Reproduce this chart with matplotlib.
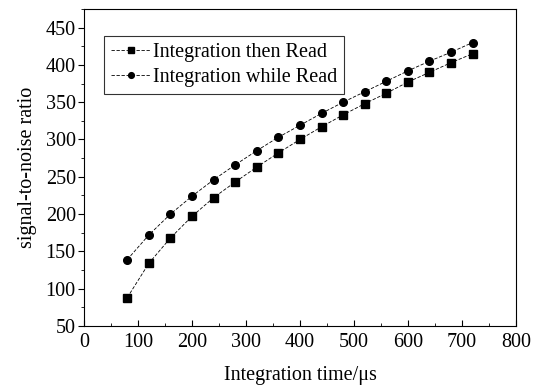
import matplotlib
matplotlib.use("Agg")
import matplotlib.pyplot as plt
from matplotlib.ticker import MultipleLocator

plt.rcParams['font.family'] = ['Liberation Serif', 'DejaVu Serif']
plt.rcParams['mathtext.fontset'] = 'stix'

# data
t = [80, 120, 160, 200, 240, 280, 320, 360, 400, 440, 480, 520, 560, 600, 640, 680, 720]
then_read = [88, 134, 168, 197, 222, 243, 263, 282, 300, 317, 333, 348, 362, 377, 390, 403, 415]
while_read = [139, 172, 200, 224, 246, 266, 285, 303, 319, 335, 350, 364, 378, 392, 405, 417, 430]

fig = plt.figure(figsize=(5.39, 3.89), dpi=100)
ax = fig.add_axes([0.156, 0.162, 0.801, 0.815])

ax.plot(t, then_read, color="black", linestyle=(0, (4, 2)), linewidth=0.6,
        marker="s", markersize=5.5, label="Integration then Read")
ax.plot(t, while_read, color="black", linestyle=(0, (4, 2)), linewidth=0.6,
        marker="o", markersize=5.5, label="Integration while Read")

ax.set_xlim(0, 800)
ax.set_ylim(50, 475)
ax.set_yticks(range(50, 451, 50))
ax.xaxis.set_major_locator(MultipleLocator(100))
ax.xaxis.set_minor_locator(MultipleLocator(50))
ax.yaxis.set_minor_locator(MultipleLocator(25))
ax.tick_params(axis="x", which="both", direction="in", labelsize=14.5, pad=5)
ax.tick_params(axis="y", which="both", direction="out", labelsize=14.5, pad=2)
ax.tick_params(which="major", length=4)
ax.tick_params(which="minor", length=2.5)

ax.set_xlabel("Integration time/\u03bcs", fontsize=14.5, labelpad=10)
ax.set_ylabel("signal-to-noise ratio", fontsize=14.5, labelpad=6)

leg = ax.legend(loc="upper left", bbox_to_anchor=(0.045, 0.915), fontsize=14.5,
                frameon=True, fancybox=False, edgecolor="black", markerscale=0.75,
                handlelength=2.0, handletextpad=0.1, borderpad=0.35, labelspacing=0.3,
                borderaxespad=0)
leg.get_frame().set_linewidth(0.8)

fig.savefig("out.png", dpi=100)
